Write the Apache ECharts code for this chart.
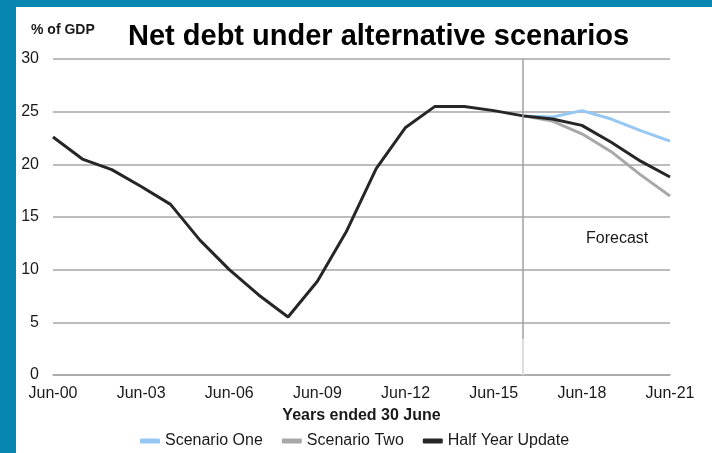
<!DOCTYPE html>
<html>
<head>
<meta charset="utf-8">
<script src="https://cdn.jsdelivr.net/npm/echarts@6/dist/echarts.min.js"></script>
<style>
  html, body { margin: 0; padding: 0; width: 712px; height: 453px; background: #0786B2; overflow: hidden; }
  #chart { position: absolute; left: 16px; top: 7px; width: 696px; height: 446px; background: #ffffff; }
</style>
</head>
<body>
<div id="chart"></div>
<script>
const categories = ['Jun-00','Jun-01','Jun-02','Jun-03','Jun-04','Jun-05','Jun-06','Jun-07','Jun-08','Jun-09','Jun-10',
  'Jun-11','Jun-12','Jun-13','Jun-14','Jun-15','Jun-16','Jun-17','Jun-18','Jun-19','Jun-20','Jun-21'];
const halfYearUpdate = [22.6, 20.5, 19.5, 17.9, 16.2, 12.8, 10.0, 7.6, 5.5, 8.9, 13.7,
  19.6, 23.5, 25.5, 25.5, 25.1, 24.6, 24.3, 23.7, 22.1, 20.3, 18.8];
const scenarioOne = [null, null, null, null, null, null, null, null, null, null, null,
  null, null, null, null, null, 24.6, 24.5, 25.1, 24.3, 23.2, 22.2];
const scenarioTwo = [null, null, null, null, null, null, null, null, null, null, null,
  null, null, null, null, null, 24.6, 24.1, 22.9, 21.2, 19.0, 17.0];
const forecastStart = 'Jun-16';
const yTicks = { min: 0, max: 30, interval: 5 };

const textColor = '#1a1a1a';
const gridColor = '#a6a6a6';
const font = 'Liberation Sans, Arial, sans-serif';

const chart = echarts.init(document.getElementById('chart'), null, { renderer: 'canvas' });
chart.setOption({
  backgroundColor: '#ffffff',
  animation: false,
  textStyle: { fontFamily: font, color: textColor },
  title: [
    { text: 'Net debt under alternative scenarios', left: 107, top: 10,
      textStyle: { fontFamily: font, fontSize: 29, fontWeight: 'bold', color: '#000' } },
    { text: '% of GDP', left: 10, top: 11,
      textStyle: { fontFamily: font, fontSize: 14, fontWeight: 'bold', color: textColor } }
  ],
  grid: { left: 37, right: 42, top: 52, bottom: 78, containLabel: false },
  legend: {
    left: 119, top: 421, itemGap: 19, itemWidth: 20, itemHeight: 5, icon: 'roundRect',
    textStyle: { fontFamily: font, fontSize: 16, color: textColor },
    data: ['Scenario One', 'Scenario Two', 'Half Year Update']
  },
  xAxis: {
    type: 'category', data: categories, boundaryGap: false,
    name: 'Years ended 30 June', nameLocation: 'middle', nameGap: 33,
    nameTextStyle: { fontFamily: font, fontSize: 16, fontWeight: 'bold', color: textColor },
    axisLine: { show: true, lineStyle: { color: gridColor, width: 1.5 } },
    axisTick: { show: false },
    axisLabel: { interval: 2, margin: 11, fontFamily: font, fontSize: 16, color: textColor },
    splitLine: { show: false }
  },
  yAxis: {
    type: 'value', min: yTicks.min, max: yTicks.max, interval: yTicks.interval,
    axisLine: { show: false }, axisTick: { show: false },
    axisLabel: { margin: 14, fontFamily: font, fontSize: 16, color: textColor },
    splitLine: { show: true, lineStyle: { color: gridColor, width: 1.5 } }
  },
  graphic: [
    { type: 'text', left: 570, top: 224,
      style: { text: 'Forecast', font: '16px ' + font, fill: textColor } }
  ],
  series: [
    { name: 'Scenario One', type: 'line', data: scenarioOne, showSymbol: false, symbol: 'none',
      lineStyle: { color: '#95C8F5', width: 3 }, itemStyle: { color: '#95C8F5' } },
    { name: 'Scenario Two', type: 'line', data: scenarioTwo, showSymbol: false, symbol: 'none',
      lineStyle: { color: '#a8a8a8', width: 3 }, itemStyle: { color: '#a8a8a8' } },
    { name: 'Half Year Update', type: 'line', data: halfYearUpdate, showSymbol: false, symbol: 'none',
      lineStyle: { color: '#262626', width: 3 }, itemStyle: { color: '#262626' }, z: 3,
      markLine: {
        silent: true, symbol: ['none', 'none'], label: { show: false },
        data: [
          [ { coord: [forecastStart, 30], lineStyle: { color: '#a0a0a0', width: 1.5, type: 'solid' } },
            { coord: [forecastStart, 3.4] } ],
          [ { coord: [forecastStart, 3.4], lineStyle: { color: '#dedede', width: 2, type: 'solid' } },
            { coord: [forecastStart, 0] } ]
        ]
      }
    }
  ]
});
</script>
</body>
</html>
